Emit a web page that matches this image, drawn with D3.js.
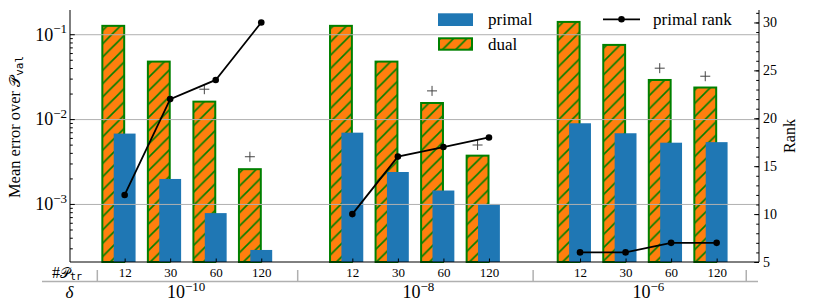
<!DOCTYPE html>
<html>
<head>
<meta charset="utf-8">
<script src="https://cdn.jsdelivr.net/npm/d3@7"></script>
<style>
  body { margin: 0; background: #fff; }
  text { font-family: "Liberation Serif", "DejaVu Serif", serif; fill: #000; }
</style>
</head>
<body>
<svg id="chart" width="813" height="308"></svg>
<script>
// ---- data ----
const nTrain = [12, 30, 60, 120];
const deltaExp = ["\u221210", "\u22128", "\u22126"];
const primalErr = [
  [0.00675, 0.00197, 0.00078, 0.000287],
  [0.00692, 0.00238, 0.00144, 0.00100],
  [0.00893, 0.00681, 0.00527, 0.00535]
];
const dualErr = [
  [0.129, 0.0489, 0.0165, 0.00264],
  [0.129, 0.0489, 0.0159, 0.00381],
  [0.1435, 0.0769, 0.0297, 0.0242]
];
const plusErr = [
  [null, null, 0.0225, 0.0036],
  [null, null, 0.0215, 0.00495],
  [null, null, 0.0398, 0.032]
];
const primalRank = [
  [12, 22, 24, 30],
  [10, 16, 17, 18],
  [6, 6, 7, 7]
];
const decades = [1e-3, 1e-2, 1e-1];
const rankTicks = [5, 10, 15, 20, 25, 30];

// layout
const plotL = 70, plotR = 759, plotT = 10, plotB = 262;
const barW = 0.48;
const separators = [-0.6, 3.8, 8.97, 13.65];
const deltaPos = [1.35, 6.45, 11.5];

const rows = [];
dualErr.forEach((grp, g) => grp.forEach((d, i) => rows.push({
  g: g, i: i, pos: g * 5 + i,
  dual: d, primal: primalErr[g][i], plus: plusErr[g][i], rank: primalRank[g][i]
})));

const svg = d3.select("#chart");

const x = d3.scaleLinear().domain([-1.2, 13.93]).range([plotL, plotR]);
const yL = d3.scaleLog().domain([2.07e-4, 0.193]).range([plotB, plotT]);
const yR = d3.scaleLinear().domain([5, 31.3]).range([plotB, plotT]);

// hatch pattern for the dual bars
const p = 13.3;
const pat = svg.append("defs").append("pattern")
  .attr("id", "hatch").attr("patternUnits", "userSpaceOnUse")
  .attr("width", p).attr("height", p);
pat.append("rect").attr("width", p).attr("height", p).attr("fill", "#ff7f0e");
pat.append("path")
  .attr("d", `M0,${p} L${p},0 M-2,2 L2,-2 M${p - 2},${p + 2} L${p + 2},${p - 2}`)
  .attr("stroke", "#008000").attr("stroke-width", 1.6);

// bars
svg.append("g").selectAll("rect")
  .data(rows).join("rect")
    .attr("x", d => x(d.pos - 0.25 - barW / 2))
    .attr("width", x(barW) - x(0))
    .attr("y", d => yL(d.dual) + 1)
    .attr("height", d => plotB - yL(d.dual) - 1)
    .attr("fill", "url(#hatch)")
    .attr("stroke", "#008000").attr("stroke-width", 2);

svg.append("g").selectAll("rect")
  .data(rows).join("rect")
    .attr("x", d => x(d.pos - barW / 2))
    .attr("width", x(barW) - x(0))
    .attr("y", d => yL(d.primal))
    .attr("height", d => plotB - yL(d.primal))
    .attr("fill", "#1f77b4");

// grid (matplotlib draws it over the patches)
svg.append("g")
  .attr("transform", `translate(${plotL},0)`)
  .call(d3.axisLeft(yL).tickValues(decades).tickSize(-(plotR - plotL)).tickFormat(""))
  .call(g => g.select(".domain").remove())
  .call(g => g.selectAll("line").attr("stroke", "#b0b0b0").attr("stroke-width", 1));

// plus markers
svg.append("g").selectAll("path")
  .data(rows.filter(d => d.plus != null)).join("path")
    .attr("transform", d => `translate(${x(d.pos - 0.25)},${yL(d.plus)})`)
    .attr("d", "M-5,0 H5 M0,-5 V5")
    .attr("stroke", "#444").attr("stroke-width", 1);

// rank lines, one per delta group
const line = d3.line().x(d => x(d.pos)).y(d => yR(d.rank));
const lg = svg.append("g");
d3.groups(rows, d => d.g).forEach(([g, pts]) => {
  lg.append("path").attr("d", line(pts))
    .attr("fill", "none").attr("stroke", "#000").attr("stroke-width", 1.8);
});
lg.selectAll("circle").data(rows).join("circle")
  .attr("cx", d => x(d.pos)).attr("cy", d => yR(d.rank)).attr("r", 3.3)
  .attr("fill", "#000");

// left axis: major + minor inward ticks
const minor = [];
for (let e = -4; e <= -1; e++) for (let k = 2; k <= 9; k++) {
  const v = k * Math.pow(10, e);
  if (v >= 2.07e-4 && v <= 0.193) minor.push(v);
}
svg.append("g").attr("transform", `translate(${plotL},0)`)
  .call(d3.axisLeft(yL).tickValues(minor).tickSize(-2.8).tickSizeOuter(0).tickFormat(""))
  .call(g => g.select(".domain").remove());
svg.append("g").attr("transform", `translate(${plotL},0)`)
  .call(d3.axisLeft(yL).tickValues(decades).tickSize(-4.8).tickSizeOuter(0).tickFormat(""))
  .call(g => g.select(".domain").remove());

const ll = svg.append("g").selectAll("text").data(decades).join("text")
  .attr("x", plotL - 3).attr("y", d => yL(d) + 6.4)
  .attr("text-anchor", "end").attr("font-size", 18);
ll.append("tspan").text("10");
ll.append("tspan").attr("dy", -7.5).attr("font-size", 13)
  .text(d => "\u2212" + Math.round(-Math.log10(d)));

// right axis
const rMinor = d3.range(5, 32);
svg.append("g").attr("transform", `translate(${plotR},0)`)
  .call(d3.axisRight(yR).tickValues(rMinor).tickSize(-2.8).tickSizeOuter(0).tickFormat(""))
  .call(g => g.select(".domain").remove());
svg.append("g").attr("transform", `translate(${plotR},0)`)
  .call(d3.axisRight(yR).tickValues(rankTicks).tickSize(-4.8).tickSizeOuter(0).tickPadding(4))
  .call(g => g.select(".domain").remove())
  .call(g => g.selectAll("text").attr("font-size", 14)
    .style("font-family", '"Liberation Serif", serif'));

// bottom axis
svg.append("g").attr("transform", `translate(0,${plotB})`)
  .call(d3.axisBottom(x).tickValues(rows.map(d => d.pos)).tickSize(-3.5).tickSizeOuter(0)
    .tickPadding(6).tickFormat((d, i) => nTrain[i % 4]))
  .call(g => g.select(".domain").remove())
  .call(g => g.selectAll("text").attr("font-size", 13)
    .style("font-family", '"Liberation Serif", serif'));

// spines (no top)
svg.append("path")
  .attr("d", `M${plotL},${plotT} V${plotB} H${plotR} V${plotT}`)
  .attr("fill", "none").attr("stroke", "#000").attr("stroke-width", 1);

// table-like lower labels
svg.append("line").attr("x1", 42).attr("x2", 758).attr("y1", 281.5).attr("y2", 281.5)
  .attr("stroke", "#b0b0b0").attr("stroke-width", 1.5);
svg.append("g").selectAll("line").data(separators).join("line")
  .attr("x1", d => x(d)).attr("x2", d => x(d)).attr("y1", 270).attr("y2", 281)
  .attr("stroke", "#b0b0b0").attr("stroke-width", 1.5);

const nt = svg.append("text").attr("x", 67).attr("y", 277.5)
  .attr("text-anchor", "middle").attr("font-size", 16);
nt.append("tspan").text("#");
nt.append("tspan").attr("font-size", 14).text("\u{1D4AB}");
nt.append("tspan").attr("dy", 2.5).attr("font-size", 10)
  .style("font-family", '"DejaVu Sans Mono", monospace').text("tr");

svg.append("text").attr("x", 69.5).attr("y", 297.5).attr("text-anchor", "middle")
  .attr("font-size", 17).attr("font-style", "italic").text("\u03b4");

const dl = svg.append("g").selectAll("text").data(deltaExp).join("text")
  .attr("x", (d, i) => x(deltaPos[i])).attr("y", 298)
  .attr("text-anchor", "middle").attr("font-size", 18);
dl.append("tspan").text("10");
dl.append("tspan").attr("dy", -7.5).attr("font-size", 13).text(d => d);

// axis titles
const yt = svg.append("text")
  .attr("transform", "translate(20,127) rotate(-90)")
  .attr("text-anchor", "middle").attr("font-size", 16.5);
yt.append("tspan").text("Mean error over ");
yt.append("tspan").attr("font-size", 14.5).text("\u{1D4AB}");
yt.append("tspan").attr("dy", 3).attr("font-size", 11)
  .style("font-family", '"DejaVu Sans Mono", monospace').text("val");

svg.append("text")
  .attr("transform", "translate(795,136) rotate(-90)")
  .attr("text-anchor", "middle").attr("font-size", 16).text("Rank");

// legends
const leg = svg.append("g");
leg.append("rect").attr("x", 438).attr("y", 13.3).attr("width", 35).attr("height", 12.7)
  .attr("fill", "#1f77b4");
leg.append("text").attr("x", 488).attr("y", 25).attr("font-size", 17).text("primal");
leg.append("rect").attr("x", 439).attr("y", 38.3).attr("width", 33).attr("height", 11.4)
  .attr("fill", "url(#hatch)").attr("stroke", "#008000").attr("stroke-width", 2);
leg.append("text").attr("x", 488).attr("y", 50).attr("font-size", 17).text("dual");
leg.append("line").attr("x1", 603).attr("x2", 640).attr("y1", 19.3).attr("y2", 19.3)
  .attr("stroke", "#000").attr("stroke-width", 1.8);
leg.append("circle").attr("cx", 621.5).attr("cy", 19.3).attr("r", 3.3).attr("fill", "#000");
leg.append("text").attr("x", 653).attr("y", 25).attr("font-size", 17).text("primal rank");
</script>
</body>
</html>
